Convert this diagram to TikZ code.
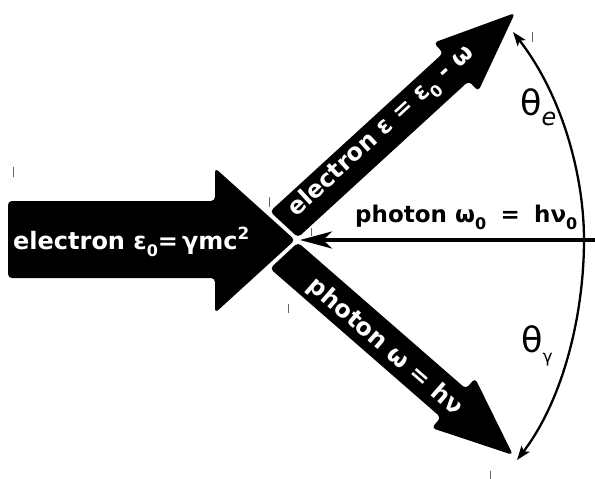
\documentclass[tikz,border=0pt]{standalone}
\usepackage{fontspec}
\setmainfont{DejaVu Sans}
\usetikzlibrary{arrows.meta}
\newcommand\lsub[1]{\raisebox{-0.32em}{\fontsize{16}{16}\selectfont #1}}
\tikzset{
  bigarrow/.style={fill=black, rounded corners=4pt},
  lbl/.style={text=white, font=\fontsize{24}{24}\bfseries\selectfont, inner sep=0pt},
  hlbl/.style={text=black, font=\fontsize{23}{23}\bfseries\selectfont, inner sep=0pt},
  anglbl/.style={text=black, font=\fontsize{35}{35}\selectfont, inner sep=0pt},
  tick/.style={draw=black!60, line width=0.8pt},
  photonline/.style={line width=4pt, -{Stealth[length=32pt,width=17pt,inset=9pt]}},
  anglearc/.style={line width=2.3pt, {Stealth[length=14pt,width=10pt,inset=3pt]}-{Stealth[length=14pt,width=10pt,inset=3pt]}}
}
\begin{document}
\begin{tikzpicture}[x=1pt,y=-1pt]
\useasboundingbox (0,0) rectangle (595,479);
% incoming electron
\fill[bigarrow] (8,201) -- (215,201) -- (215,168) -- (295,240) -- (215,313) -- (215,278) -- (8,278) -- cycle;
% scattered electron
\fill[bigarrow] (270,211.5) -- (443.2,53) -- (433.7,42.7) -- (515,13) -- (478.3,91.3) -- (468.8,81) -- (298,237.5) -- cycle;
% scattered photon
\fill[bigarrow] (270,268.5) -- (298,242.5) -- (465.9,388.8) -- (475.1,378.2) -- (513,455) -- (431.7,428) -- (440.9,417.4) -- cycle;
% labels in arrows
\node[lbl, anchor=base west] (lin) at (13,249) {electron ε\lsub{0}=\,γmc\textsuperscript{2}};
\node[lbl, rotate=42.5] (lup) at (382,132) {electron ε = ε\lsub{0} - ω};
\node[lbl, rotate=-41] (ldown) at (385,347) {photon ω = hν};
% incoming photon
\coordinate (pstart) at (595,240);
\coordinate (pend) at (300,240);
\draw[photonline] (pstart) -- (pend);
\node[hlbl, anchor=base west] (lph) at (355,222) {photon ω\lsub{0} \;=\; hν\lsub{0}};
% angle arc
\coordinate (te) at (513,32);
\coordinate (tm) at (584,240);
\coordinate (tg) at (517,460);
\draw[anglearc] (te) .. controls (562,95) and (584,175) .. (tm) .. controls (584,315) and (563,400) .. (tg);
\node[anglbl, anchor=base west] (the) at (520,115) {θ\raisebox{-0.3em}{\fontsize{24}{24}\selectfont\itshape e}};
\node[anglbl, anchor=base west] (thg) at (521,352) {θ\raisebox{-0.3em}{\fontsize{17}{17}\selectfont γ}};
% stray marks
\draw[tick] (13,167) -- (13,177);
\draw[tick] (269,197) -- (269,207);
\draw[tick] (311,228) -- (311,236);
\draw[tick] (288,304) -- (288,313);
\draw[tick] (532,32) -- (532,42);
\draw[tick] (490,471) -- (490,479);
\end{tikzpicture}
\end{document}
